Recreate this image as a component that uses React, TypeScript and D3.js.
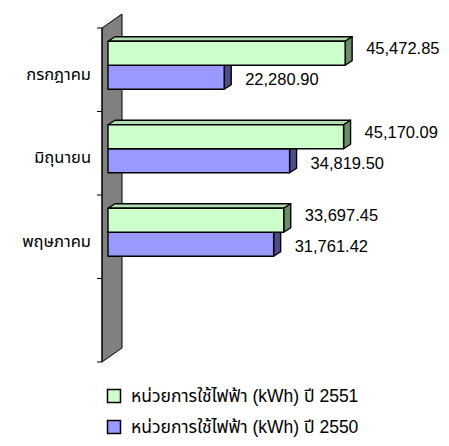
import React from 'react';
import * as d3 from 'd3';

// months shown top to bottom; the last row is empty in the original sheet
const categories = ['กรกฎาคม', 'มิถุนายน', 'พฤษภาคม', ''];
const series2551 = [45472.85, 45170.09, 33697.45];
const series2550 = [22280.90, 34819.50, 31761.42];
const seriesNames = ['หน่วยการใช้ไฟฟ้า (kWh) ปี 2551', 'หน่วยการใช้ไฟฟ้า (kWh) ปี 2550'];

const W = 449;
const H = 446;

// 3d offsets
const wallDx = 20, wallDy = 14;
const barDx = 7, barDy = 4.5;

const series = [
    { name: seriesNames[0], values: series2551, front: '#CCFFCC', top: '#B3DDB3', side: '#6B8C6B' },
    { name: seriesNames[1], values: series2550, front: '#9999FF', top: '#8585DD', side: '#4D4D87' },
];

const numFont = "'Liberation Sans', Arial, sans-serif";
const thaiFont = "'Liberation Sans', 'Noto Sans Thai', 'Noto Sans Thai UI', 'Noto Sans', sans-serif";

const App = () => {
    const y = d3.scaleBand<string>().domain(categories).range([28, 362]).paddingInner(0);
    const x = d3.scaleLinear().domain([0, 50000]).range([108, 368.75]);
    const inner = d3.scaleBand<number>().domain([0, 1]).range([0, 48]);
    const fmt = d3.format(',.2f');

    const bars: any[] = [];
    categories.forEach((cat, i) => {
        series.forEach((s, si) => {
            const v = s.values[i];
            if (v == null) return;
            const top = (y(cat) as number) + y.bandwidth() / 2 - 28.5 + (inner(si) as number);
            bars.push({ cat, i, si, v, s, top, h: inner.bandwidth() });
        });
    });
    // purple first so the green bar hides its top face
    const drawOrder = [...bars].sort((a, b) => b.si - a.si);

    const x0 = x(0);
    return (
        <svg width={W} height={H} style={{ display: 'block', margin: '-8px' }}>
            {/* wall */}
            <polygon
                points={`102,28 ${102 + wallDx},${28 - wallDy} ${102 + wallDx},${362 - wallDy} 102,362`}
                fill="#808080" stroke="#000" strokeWidth={1} />
            <line x1={102} x2={102} y1={28} y2={362} stroke="#000" />
            {/* category ticks */}
            {categories.map((c, i) => (
                <line key={'t' + i} x1={97} x2={102} y1={y(c)} y2={y(c)} stroke="#000" />
            ))}
            <line x1={97} x2={102} y1={362} y2={362} stroke="#000" />
            {/* category labels */}
            {categories.map((c, i) => (
                <text key={'c' + i} x={91} y={(y(c) as number) + y.bandwidth() / 2 + 10}
                    textAnchor="end" fontFamily={thaiFont} fontSize={16.5} fill="#000">{c}</text>
            ))}
            {/* bars */}
            {drawOrder.map((b, k) => {
                const x1 = x(b.v);
                const t = b.top, bt = b.top + b.h;
                return (
                    <g key={'b' + k} stroke="#000" strokeWidth={1.4} strokeLinejoin="round">
                        <polygon points={`${x0},${t} ${x1},${t} ${x1 + barDx},${t - barDy} ${x0 + barDx},${t - barDy}`} fill={b.s.top} />
                        <polygon points={`${x1},${t} ${x1 + barDx},${t - barDy} ${x1 + barDx},${bt - barDy} ${x1},${bt}`} fill={b.s.side} />
                        <rect x={x0} y={t} width={x1 - x0} height={b.h} fill={b.s.front} />
                    </g>
                );
            })}
            {/* value labels */}
            {bars.map((b, k) => (
                <text key={'v' + k} x={x(b.v) + 21} y={b.top + b.h / 2 + (b.si === 0 ? -5 : 2)}
                    dy="0.36em" fontFamily={numFont} fontSize={16.5} fill="#000">{fmt(b.v)}</text>
            ))}
            {/* legend */}
            {series.map((s, i) => (
                <g key={'l' + i} transform={`translate(107,${389 + i * 31})`}>
                    <rect x={0.5} y={0.5} width={13} height={13} fill={s.front} stroke="#000" strokeWidth={1.5} />
                    <text x={24} y={7} dy="0.36em" fontFamily={thaiFont} fontSize={17.5} fill="#000">{s.name}</text>
                </g>
            ))}
        </svg>
    );
};

export default App;
